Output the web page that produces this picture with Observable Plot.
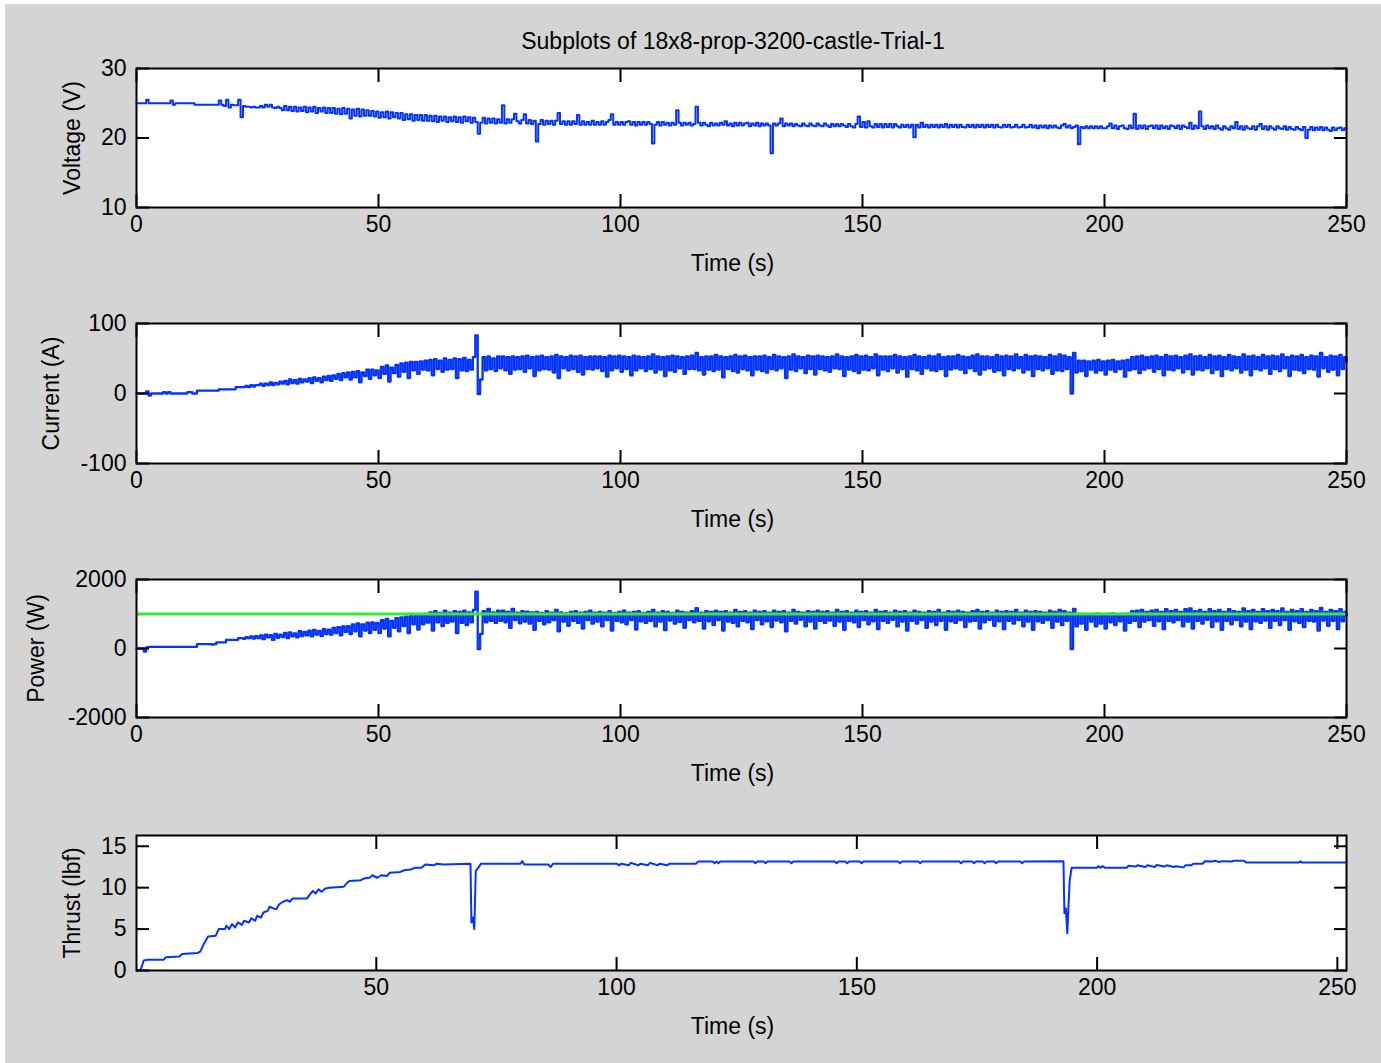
<!DOCTYPE html>
<html>
<head>
<meta charset="utf-8">
<script src="https://cdn.jsdelivr.net/npm/d3@7"></script>
<script src="https://cdn.jsdelivr.net/npm/@observablehq/plot@0.6"></script>
<style>
html, body { margin: 0; padding: 0; background: #ffffff; }
#fig { position: relative; width: 1381px; height: 1063px; background: #ffffff; overflow: hidden; }
#bg { position: absolute; left: 5px; top: 4px; right: 0; bottom: 0; background: #d4d4d4; }
.panel { position: absolute; left: 0; }
#title { position: absolute; left: 433px; width: 600px; top: 28px; text-align: center;
  font: 23px "Liberation Sans", Arial, Helvetica, sans-serif; color: #000; white-space: nowrap; }
</style>
</head>
<body>
<div id="fig"><div id="bg"></div><div id="title">Subplots of 18x8-prop-3200-castle-Trial-1</div></div>
<script>
// ---------------- DATA (sampled every 0.5 s from t = 0 to 250 s) ----------------
const sampleStep = 0.5;

const voltage = [
25.0,25.0,25.0,25.0,25.5,25.0,25.0,25.0,25.0,25.0,
25.0,25.0,25.0,25.0,25.4,24.8,25.0,25.0,25.0,25.0,
25.0,25.0,25.0,25.0,24.8,24.8,24.8,24.8,24.8,24.8,
24.8,24.8,24.8,24.8,25.4,24.8,24.6,25.5,24.4,24.8,
24.7,24.7,25.5,23.0,24.6,24.5,24.5,24.4,24.5,24.4,
24.4,24.6,24.4,24.8,24.5,24.8,24.4,24.3,24.5,24.3,
24.0,24.6,24.0,24.5,23.9,24.5,23.8,24.4,23.9,24.5,
23.7,24.4,23.8,24.5,23.6,24.3,23.8,24.4,23.6,24.3,
23.6,24.3,23.5,24.2,23.4,24.3,23.5,24.2,22.8,24.1,
23.2,24.2,23.1,24.1,23.2,24.0,23.2,23.9,23.1,23.8,
22.9,23.7,23.0,23.8,22.8,23.7,23.0,23.6,22.8,23.6,
22.6,23.4,22.7,23.4,22.5,23.3,22.6,23.3,22.5,23.3,
22.5,23.2,22.4,23.2,22.3,23.1,22.5,23.1,22.3,23.0,
22.4,23.1,22.3,23.0,22.2,23.1,22.4,23.0,22.2,22.9,
22.3,20.6,22.2,22.9,22.1,22.8,22.2,22.8,22.1,22.7,
22.2,24.7,22.1,22.7,22.2,22.7,23.5,22.4,22.1,22.6,
23.4,22.1,22.6,22.0,22.5,19.5,22.0,22.6,21.9,22.5,
22.0,22.5,21.9,22.5,23.6,22.0,22.4,21.9,22.4,21.9,
22.4,22.0,23.3,21.9,22.4,21.9,22.3,21.9,22.5,21.9,
22.3,21.9,22.4,21.9,22.3,22.6,23.4,21.9,22.3,21.9,
22.3,21.9,22.3,22.4,21.9,22.3,21.8,22.3,21.9,22.3,
21.9,22.3,22.0,19.2,21.9,22.3,21.8,22.3,21.9,22.2,
21.8,22.2,21.9,24.0,22.2,21.8,22.2,21.9,22.2,21.8,
22.0,24.5,22.2,21.8,22.2,21.9,21.7,22.2,21.8,22.1,
21.8,22.2,21.9,22.4,21.8,22.1,21.7,22.2,21.8,22.2,
21.8,22.1,22.2,21.7,22.1,21.8,22.2,21.7,22.1,21.8,
22.1,21.8,17.8,22.1,21.8,22.1,22.8,21.7,22.1,21.8,
22.1,21.7,22.0,21.8,21.7,22.1,21.8,21.7,22.1,21.8,
21.7,22.1,21.8,21.7,22.1,21.8,21.6,22.0,21.7,22.0,
21.7,22.0,21.8,21.6,22.0,21.7,21.5,22.0,23.1,21.6,
22.3,21.5,22.4,21.7,21.5,22.0,21.6,22.0,21.5,22.0,
21.6,22.0,21.5,22.0,21.7,21.5,21.9,21.6,21.9,21.5,
21.9,20.1,21.9,21.5,22.2,21.6,21.9,21.5,21.9,21.6,
21.9,21.5,21.9,21.6,22.0,21.5,21.9,21.6,21.9,21.5,
21.9,21.6,21.5,21.9,21.6,21.9,21.5,21.9,21.6,21.9,
21.5,21.9,21.6,21.9,21.5,21.9,21.6,21.5,21.9,21.6,
21.9,21.5,21.6,21.9,21.5,21.6,21.9,21.5,21.6,21.9,
21.5,21.8,21.4,21.8,21.5,21.8,21.4,21.8,21.5,21.8,
21.5,21.4,21.8,22.0,21.5,21.8,21.4,21.6,21.8,19.1,
21.6,21.4,21.7,21.4,21.7,21.4,21.7,21.4,21.7,21.4,
21.4,21.7,22.1,21.4,21.8,21.3,21.7,21.8,21.4,21.3,
21.8,21.4,23.5,21.3,21.8,21.4,21.8,21.3,21.7,21.8,
21.4,21.8,21.3,21.8,21.4,21.7,21.3,21.8,21.7,21.4,
21.8,21.3,21.8,21.6,21.4,22.2,21.3,21.8,21.4,23.8,
21.7,21.3,21.8,21.4,21.7,21.3,21.8,21.4,21.2,21.7,
21.4,21.2,21.7,21.4,22.3,21.3,21.7,21.2,21.7,21.4,
21.3,21.7,21.2,21.7,22.0,21.3,21.7,21.2,21.7,21.4,
21.2,21.7,21.4,21.3,21.7,21.2,21.6,21.3,21.2,21.6,
21.3,21.1,21.6,20.0,21.2,21.6,21.1,21.5,21.2,21.6,
21.1,21.5,21.2,21.0,21.5,21.1,21.4,21.5,21.1,21.4,
21.3
];

const current = [
0,0,0,0,3,-3,0,0,0,0,
0,2,0,2,0,0,0,0,0,0,
0,2,2,0,0,4,4,4,4,4,
4,4,4,4,6,6,6,6,6,6,
6,9,9,9,9,11,9,12,10,12,
12,14,11,14,12,16,12,15,13,17,
14,18,13,20,15,19,14,21,16,20,
17,22,15,23,18,22,16,24,19,25,
18,26,21,28,19,29,23,30,20,31,
23,32,16,30,25,34,21,34,26,33,
22,38,28,40,17,37,29,41,24,43,
31,44,22,45,33,45,28,46,34,47,
33,48,26,49,35,47,31,50,34,48,
35,50,22,49,33,51,32,48,34,52,
83,-1,20,52,33,53,35,50,32,53,
36,53,33,52,28,53,34,52,35,53,
31,54,36,52,25,53,33,54,35,52,
34,53,30,55,22,53,36,52,33,54,
35,53,31,54,27,52,35,53,34,53,
36,53,32,52,24,54,33,53,36,54,
31,53,35,52,26,54,33,53,36,52,
32,53,35,56,30,53,34,52,25,53,
33,54,31,53,36,52,28,53,35,54,
35,58,33,52,27,53,34,53,32,55,
34,53,23,52,35,53,32,55,30,53,
35,54,33,52,26,53,34,53,32,54,
30,52,35,55,33,53,36,52,22,53,
34,56,32,53,36,52,29,54,35,53,
27,54,35,53,33,52,31,53,36,56,
35,53,25,52,34,53,32,55,29,53,
34,54,33,52,36,56,26,53,34,53,
32,53,36,55,30,53,35,52,24,53,
35,55,33,53,28,52,36,54,33,53,
32,56,35,52,25,53,34,53,36,55,
34,53,29,52,36,54,32,56,27,53,
34,53,36,52,31,55,33,53,26,54,
35,53,33,56,36,52,30,55,34,53,
25,54,35,53,33,52,36,55,28,53,
33,56,32,54,35,52,0,58,30,47,
32,47,25,46,34,47,30,48,33,46,
27,47,34,48,31,46,35,47,24,48,
33,52,35,53,29,54,34,52,36,53,
31,54,35,52,26,55,34,53,33,54,
36,52,30,54,35,56,27,53,34,54,
33,52,36,55,29,53,34,54,25,52,
35,55,33,53,36,52,30,56,34,53,
26,54,35,52,33,55,36,53,28,54,
35,53,32,56,36,52,25,54,34,53,
33,55,29,52,35,54,34,53,24,58,
36,52,31,54,34,53,26,55,35,52,
45
];

const power = [
0,0,0,-90,30,50,50,50,50,50,
50,50,50,50,50,50,50,50,50,50,
50,50,50,50,50,125,125,125,125,125,
125,110,125,180,180,180,180,250,250,250,
250,250,300,300,280,330,300,350,290,360,
300,380,270,400,320,390,250,420,310,400,
330,450,300,470,350,440,320,500,360,480,
380,520,350,540,400,510,360,560,420,550,
400,600,450,620,380,640,480,650,420,700,
500,730,350,700,520,750,450,760,540,740,
450,820,580,860,350,800,600,880,500,900,
650,920,450,940,700,960,550,990,700,1000,
750,1050,520,1080,760,1030,650,1100,740,1040,
780,1080,450,1060,740,1100,680,1050,760,1120,
1650,-20,420,1080,760,1150,800,1050,740,1100,
800,1100,760,1060,600,1150,820,1040,730,1080,
780,1070,720,1050,540,1060,800,1030,700,1080,
760,1040,820,1120,500,1050,780,1020,660,1060,
800,1080,740,1040,580,1060,820,1100,720,1040,
780,1060,640,1040,820,1080,520,1030,800,1060,
760,1100,700,1040,820,1060,550,1080,790,1030,
740,1060,800,1120,640,1040,780,1080,530,1060,
810,1030,720,1100,770,1060,600,1040,820,1080,
760,1170,800,1040,580,1080,790,1060,680,1100,
820,1060,520,1080,780,1040,740,1120,640,1060,
800,1080,760,1040,560,1100,820,1060,700,1080,
790,1040,620,1100,810,1060,760,1080,500,1040,
800,1120,720,1060,830,1040,640,1080,780,1060,
580,1100,800,1060,740,1080,810,1040,660,1120,
780,1060,540,1080,800,1040,760,1100,620,1060,
820,1080,700,1040,790,1120,560,1060,800,1080,
740,1040,830,1100,640,1060,780,1080,520,1040,
800,1100,720,1060,820,1040,600,1080,780,1060,
680,1120,800,1040,540,1080,790,1060,740,1100,
820,1060,620,1040,780,1080,800,1120,580,1060,
760,1080,830,1040,660,1100,790,1060,560,1080,
800,1060,720,1120,820,1040,640,1100,780,1060,
540,1080,790,1060,740,1040,820,1100,600,1060,
780,1120,680,1080,800,1040,-20,1150,640,1000,
720,1000,540,980,780,1000,640,1010,720,990,
580,1000,760,1020,680,990,790,1000,520,1010,
740,1080,800,1100,620,1120,780,1060,820,1100,
660,1120,790,1060,560,1140,800,1080,760,1120,
820,1060,640,1140,780,1160,580,1080,800,1120,
720,1060,830,1140,620,1080,790,1120,540,1060,
800,1140,700,1080,820,1060,640,1160,780,1080,
560,1120,790,1060,740,1140,810,1080,600,1120,
800,1080,680,1160,820,1060,540,1120,790,1080,
740,1140,620,1060,800,1120,780,1080,520,1180,
810,1060,660,1120,800,1080,560,1140,790,1060,
940
];

const powerReference = [1000];

// thrust: [time (s), thrust (lbf)]
const thrustPoints = [
[0.2,0.0],[1.0,0.1],[1.6,1.2],[2.5,1.3],[5.8,1.3],[6.2,1.6],[9.0,1.7],[9.6,2.0],[12.8,2.1],[13.4,2.3],
[14.2,3.3],[15.0,4.1],[16.6,4.2],[17.2,5.0],[18.5,5.0],[18.8,5.4],[19.4,5.0],[20.0,5.6],[20.6,5.2],[21.2,5.8],
[22.0,5.5],[22.5,6.0],[23.5,5.8],[24.0,6.3],[24.8,6.0],[25.2,6.6],[26.0,6.4],[26.5,7.0],[27.4,7.2],[27.8,7.7],
[28.6,7.5],[29.2,7.4],[29.8,8.0],[30.6,8.3],[31.4,8.5],[32.0,8.3],[32.6,8.7],[35.6,8.7],[36.2,9.2],[36.8,9.6],
[37.4,9.3],[38.0,9.8],[38.6,9.5],[39.4,9.9],[40.2,10.0],[43.2,10.1],[43.8,10.5],[44.4,10.8],[46.8,10.9],[47.4,11.1],
[48.6,11.2],[49.2,11.5],[50.2,11.2],[51.0,11.5],[52.2,11.4],[52.8,11.8],[55.0,11.9],[55.8,12.1],[57.2,12.2],[58.0,12.4],
[59.4,12.4],[60.2,12.8],[62.0,12.7],[62.6,12.9],[64.0,12.8],[69.6,12.9],[69.8,5.8],[70.1,6.4],[70.4,5.0],[70.7,12.0],
[71.2,12.4],[71.8,12.9],[80.0,12.9],[80.4,13.2],[80.8,12.8],[85.8,12.8],[86.3,12.5],[86.8,12.9],[100.0,12.9],[100.5,12.7],
[101.0,12.9],[102.5,12.7],[103.0,13.0],[104.5,12.7],[105.0,12.9],[106.5,12.7],[107.0,13.0],[108.5,12.7],[109.0,12.9],[110.5,12.7],
[111.0,12.9],[116.5,12.9],[117.0,13.15],[120.0,13.15],[120.4,12.95],[120.8,13.15],[121.2,12.95],[121.6,13.15],[128.5,13.15],[128.9,12.95],
[129.3,13.15],[130.6,13.15],[131.0,12.95],[131.4,13.15],[136.0,13.15],[136.4,12.95],[136.8,13.15],[145.4,13.15],[145.8,12.95],[146.2,13.15],
[147.6,13.15],[148.0,12.95],[148.4,13.15],[150.6,13.15],[151.0,12.95],[151.4,13.15],[158.6,13.15],[159.0,12.95],[159.4,13.15],[162.8,13.15],
[163.2,12.95],[163.6,13.15],[171.3,13.15],[171.7,12.95],[172.1,13.15],[174.0,13.15],[174.4,12.95],[174.8,13.15],[176.2,13.15],[176.6,12.95],
[177.0,13.15],[178.6,13.15],[179.0,12.95],[179.4,13.15],[184.0,13.15],[184.4,12.95],[184.8,13.15],[193.0,13.2],[193.2,6.9],[193.5,7.5],
[193.8,4.5],[194.1,8.5],[194.3,10.9],[194.7,12.4],[200.0,12.4],[200.3,12.6],[200.7,12.4],[201.2,12.6],[201.6,12.4],[206.2,12.4],
[206.5,12.65],[208.0,12.55],[208.4,12.7],[210.0,12.5],[210.5,12.7],[212.0,12.5],[212.4,12.75],[214.0,12.55],[214.5,12.7],[216.0,12.5],
[216.4,12.6],[218.0,12.45],[218.4,12.7],[219.6,12.7],[220.0,12.9],[222.0,12.9],[222.4,13.2],[224.0,13.15],[224.4,13.25],[225.5,13.1],
[226.0,13.2],[228.0,13.15],[228.4,13.25],[230.6,13.25],[231.0,13.05],[242.0,13.05],[242.3,13.2],[242.6,13.05],[251.9,13.05]
];

const timeTicks = [0, 50, 100, 150, 200, 250];
const thrustTimeTicks = [50, 100, 150, 200, 250];
const voltageTicks = [10, 20, 30];
const currentTicks = [-100, 0, 100];
const powerTicks = [-2000, 0, 2000];
const thrustTicks = [0, 5, 10, 15];

const xLabel = "Time (s)";
const yLabels = ["Voltage (V)", "Current (A)", "Power (W)", "Thrust (lbf)"];

// ---------------- RENDERING ----------------
const FONT = '"Liberation Sans", Arial, Helvetica, sans-serif';
const BLUE = "#0433ff";
const GREEN = "#38e838";
const TICK = 13;

const sampled = (values) => values.map((v, i) => ({t: i * sampleStep, v}));

function makePanel(cfg) {
  const mt = 20, mb = 80;
  const plot = Plot.plot({
    width: 1381,
    height: (cfg.frameBottom - cfg.frameTop) + mt + mb,
    marginLeft: 136, marginRight: 35, marginTop: mt, marginBottom: mb,
    style: {background: "transparent", fontFamily: FONT, fontSize: "23px", color: "black", overflow: "visible"},
    x: {domain: cfg.xDomain},
    y: {domain: cfg.yDomain},
    marks: [
      Plot.frame({fill: "white", stroke: null}),
      Plot.line(cfg.data, {x: "t", y: "v", curve: cfg.curve, stroke: BLUE, strokeWidth: cfg.lineWidth || 2}),
      ...(cfg.extra || []),
      Plot.axisX(cfg.xTicks, {anchor: "bottom", tickSize: TICK, dy: -TICK, strokeWidth: 2, tickFormat: () => "", label: null}),
      Plot.axisX(cfg.xTicks, {anchor: "top", tickSize: TICK, dy: TICK, strokeWidth: 2, tickFormat: () => "", label: null}),
      Plot.axisY(cfg.yTicks, {anchor: "left", tickSize: TICK, dx: TICK, strokeWidth: 2, tickFormat: () => "", label: null}),
      Plot.axisY(cfg.yTicks, {anchor: "right", tickSize: TICK, dx: -TICK, strokeWidth: 2, tickFormat: () => "", label: null}),
      Plot.axisX(cfg.xTicks, {anchor: "bottom", tickSize: 0, tickPadding: 8, tickFormat: d => String(d), label: null, fontSize: 23}),
      Plot.axisY(cfg.yTicks, {anchor: "left", tickSize: 0, tickPadding: 10, tickFormat: d => String(d), label: null, fontSize: 23}),
      Plot.text([xLabel], {frameAnchor: "bottom", dy: 56, dx: -9, fontSize: 23, lineAnchor: "middle"}),
      Plot.text([cfg.yLabel], {frameAnchor: "left", dx: cfg.yLabelDx, rotate: -90, fontSize: 23, textAnchor: "middle", lineAnchor: "middle"}),
      Plot.frame({stroke: "black", strokeWidth: 2})
    ]
  });
  const wrap = document.createElement("div");
  wrap.className = "panel";
  wrap.style.top = (cfg.frameTop - mt) + "px";
  wrap.appendChild(plot);
  document.getElementById("fig").appendChild(wrap);
}

makePanel({
  data: sampled(voltage), curve: "step-after", lineWidth: 2,
  xDomain: [0, 250], xTicks: timeTicks,
  yDomain: [10, 30], yTicks: voltageTicks,
  yLabel: yLabels[0], yLabelDx: -64,
  frameTop: 68, frameBottom: 207
});

makePanel({
  data: sampled(current), curve: "step-after", lineWidth: 2.3,
  xDomain: [0, 250], xTicks: timeTicks,
  yDomain: [-100, 100], yTicks: currentTicks,
  yLabel: yLabels[1], yLabelDx: -85,
  frameTop: 323, frameBottom: 463
});

makePanel({
  data: sampled(power), curve: "step-after", lineWidth: 2.3,
  xDomain: [0, 250], xTicks: timeTicks,
  yDomain: [-2000, 2000], yTicks: powerTicks,
  yLabel: yLabels[2], yLabelDx: -100,
  frameTop: 579, frameBottom: 717,
  extra: [Plot.ruleY(powerReference, {stroke: GREEN, strokeWidth: 3})]
});

makePanel({
  data: thrustPoints.map(([t, v]) => ({t, v})), curve: "linear", lineWidth: 2,
  xDomain: [0.1, 251.9], xTicks: thrustTimeTicks,
  yDomain: [0, 16.3], yTicks: thrustTicks,
  yLabel: yLabels[3], yLabelDx: -64,
  frameTop: 835, frameBottom: 970
});
</script>
</body>
</html>
